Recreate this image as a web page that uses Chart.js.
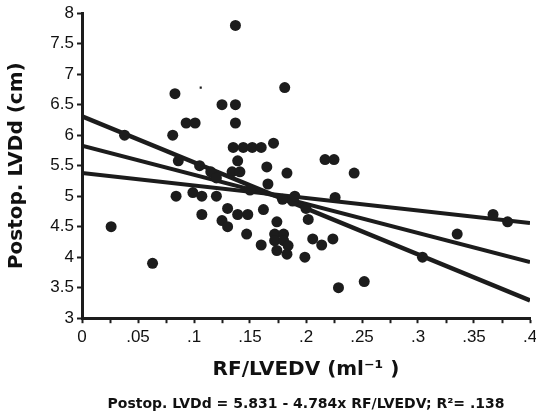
<!DOCTYPE html>
<html>
<head>
<meta charset="utf-8">
<script src="https://cdn.jsdelivr.net/npm/chart.js@4"></script>
<style>
  html, body { margin: 0; padding: 0; background: #fff; }
  #wrap { width: 536px; height: 415px; }
</style>
</head>
<body>
<div id="wrap"><canvas id="chart" width="536" height="415"></canvas></div>
<script>
// patients: RF/LVEDV vs postoperative LVDd
const rfLvedv = [
  0.026, 0.038, 0.063, 0.083, 0.081, 0.086, 0.084, 0.093, 0.101, 0.099,
  0.107, 0.107, 0.120, 0.125, 0.137, 0.137, 0.137, 0.125, 0.130, 0.139,
  0.148, 0.130, 0.147, 0.160, 0.162, 0.174, 0.172, 0.180, 0.172, 0.180,
  0.174, 0.184, 0.135, 0.144, 0.152, 0.160, 0.171, 0.139, 0.165, 0.183,
  0.181, 0.217, 0.225, 0.243, 0.226, 0.179, 0.188, 0.202, 0.206, 0.214,
  0.224, 0.199, 0.229, 0.252, 0.304, 0.335, 0.367, 0.380, 0.134, 0.141,
  0.166, 0.115, 0.120, 0.150, 0.190, 0.200, 0.105, 0.183
];
const postopLvdd = [
  4.50, 6.00, 3.90, 6.68, 6.00, 5.58, 5.00, 6.20, 6.20, 5.06,
  5.00, 4.70, 5.00, 6.50, 6.50, 6.20, 7.80, 4.60, 4.80, 4.70,
  4.70, 4.50, 4.38, 4.20, 4.78, 4.58, 4.38, 4.38, 4.27, 4.27,
  4.11, 4.19, 5.80, 5.80, 5.80, 5.80, 5.87, 5.58, 5.48, 5.38,
  6.78, 5.60, 5.60, 5.38, 4.98, 4.95, 4.92, 4.62, 4.30, 4.20,
  4.30, 4.00, 3.50, 3.60, 4.00, 4.38, 4.70, 4.58, 5.40, 5.40,
  5.20, 5.40, 5.30, 5.10, 5.00, 4.80, 5.50, 4.05
];
// one faint speck in the original
const speckX = [0.106];
const speckY = [6.78];

// straight lines read at x = 0 and x = .4
const lineX = [0, 0.4];
const fitLine = [5.83, 3.92];
const steepLine = [6.31, 3.29];
const flatLine = [5.38, 4.56];

const xTickLabels = ['0', '.05', '.1', '.15', '.2', '.25', '.3', '.35', '.4'];
const yTickLabels = ['3', '3.5', '4', '4.5', '5', '5.5', '6', '6.5', '7', '7.5', '8'];

const ink = '#1c1c1c';
const tickFont = { family: "'Liberation Sans', Arial, sans-serif", size: 17 };
const titleFont = { family: "'DejaVu Sans', sans-serif", size: 20, weight: 'bold' };

const toPoints = (xs, ys) => xs.map((x, i) => ({ x, y: ys[i] }));

const lineSet = (values, width) => ({
  type: 'line',
  data: toPoints(lineX, values),
  borderColor: ink,
  borderWidth: width,
  pointRadius: 0,
  fill: false,
  order: 2,
});

new Chart(document.getElementById('chart'), {
  type: 'scatter',
  data: {
    datasets: [
      {
        data: toPoints(rfLvedv, postopLvdd),
        backgroundColor: ink,
        borderWidth: 0,
        pointRadius: 5.5,
        order: 1,
      },
      {
        data: toPoints(speckX, speckY),
        backgroundColor: ink,
        borderWidth: 0,
        pointRadius: 1.5,
        pointStyle: 'rect',
        order: 1,
      },
      lineSet(steepLine, 4.5),
      lineSet(fitLine, 4),
      lineSet(flatLine, 4),
    ],
  },
  options: {
    responsive: false,
    animation: false,
    layout: { padding: { top: 11, right: 0, left: 0, bottom: 0 } },
    plugins: {
      legend: { display: false },
      tooltip: { enabled: false },
      title: {
        display: true,
        position: 'bottom',
        fullSize: false,
        text: 'Postop. LVDd = 5.831 - 4.784x RF/LVEDV; R²= .138',
        color: '#111',
        font: { family: "'DejaVu Sans', sans-serif", size: 14, weight: 'bold' },
        padding: { top: 0, bottom: 2 },
      },
    },
    scales: {
      x: {
        type: 'linear',
        min: 0,
        max: 0.4,
        afterFit: (scale) => {
          scale.height = 78;
          scale.paddingRight = 6; // let ".4" run to the edge like the scan
        },
        border: { color: ink, width: 3 },
        grid: { drawOnChartArea: false, tickLength: 5, tickWidth: 2, tickColor: ink },
        ticks: {
          stepSize: 0.025,
          autoSkip: false,
          maxRotation: 0,
          padding: 4,
          color: '#111',
          font: tickFont,
          callback: (value, index) => (index % 2 === 0 ? xTickLabels[index / 2] : ''),
        },
        title: {
          display: true,
          text: 'RF/LVEDV (ml⁻¹ )',
          color: '#111',
          font: titleFont,
          padding: { top: 0, bottom: 14 },
        },
      },
      y: {
        min: 3,
        max: 8,
        afterFit: (scale) => { scale.width = 82; },
        border: { color: ink, width: 3 },
        grid: { drawOnChartArea: false, tickLength: 5, tickWidth: 2, tickColor: ink },
        ticks: {
          stepSize: 0.5,
          padding: 3,
          color: '#111',
          font: tickFont,
          callback: (value, index) => yTickLabels[index],
        },
        title: {
          display: true,
          text: 'Postop. LVDd (cm)',
          color: '#111',
          font: titleFont,
          padding: { top: 5, bottom: 0 },
        },
      },
    },
  },
});
</script>
</body>
</html>
